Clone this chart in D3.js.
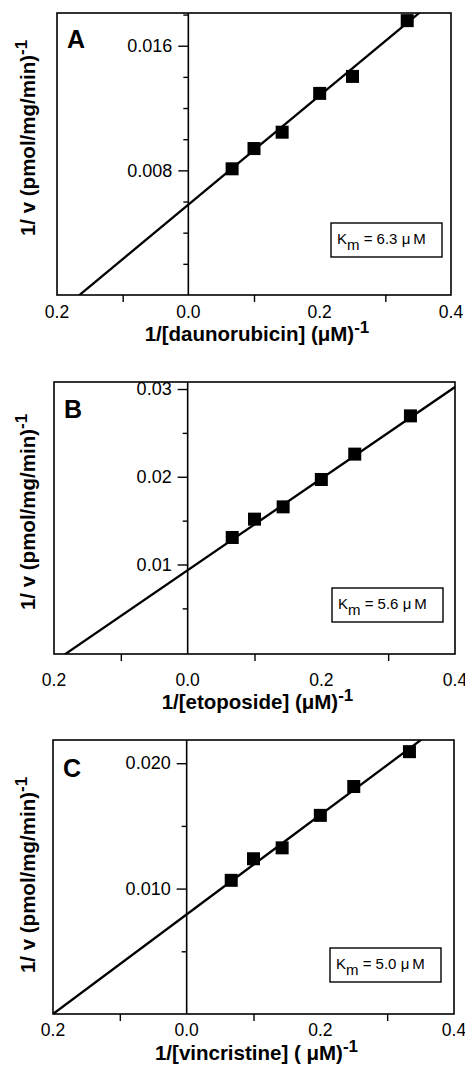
<!DOCTYPE html>
<html>
<head>
<meta charset="utf-8">
<script src="https://cdn.jsdelivr.net/npm/d3@7"></script>
<style>
  body { margin: 0; background: #fff; }
  svg { font-family: "Liberation Sans", Arial, Helvetica, sans-serif; }
</style>
</head>
<body>
<div id="chart"></div>
<script>
// reciprocal substrate concentrations, 1/[S] (uM^-1)
var invConc = [1 / 15, 0.1, 1 / 7, 0.2, 0.25, 1 / 3];

// 1/v values
var daunorubicinV = [0.0081, 0.0094, 0.01045, 0.01294, 0.01403, 0.01761];
var etoposideV = [0.01308, 0.01517, 0.01657, 0.01969, 0.02258, 0.02694];
var vincristineV = [0.01066, 0.01238, 0.01325, 0.01584, 0.01814, 0.02092];

// fitted lines: [intercept, slope]
var daunorubicinFit = [0.0058, 0.0350];
var etoposideFit = [0.00935, 0.0522];
var vincristineFit = [0.00794, 0.0397];

var panelLetters = ["A", "B", "C"];
var drugNames = ["daunorubicin", "etoposide", "vincristine"];
var kmValues = ["6.3", "5.6", "5.0"];

var xDomain = [-0.2, 0.4];
var xLabelTicks = [-0.2, 0.0, 0.2, 0.4];
var xLabelText = ["0.2", "0.0", "0.2", "0.4"];
var xMinorTicks = [-0.1, 0.1, 0.3];

var yDomains = [[0, 0.0181], [-0.0002, 0.0308], [0, 0.02185]];
var yMajorTicks = [[0.008, 0.016], [0.01, 0.02, 0.03], [0.010, 0.020]];
var yMinorTicks = [[0.002, 0.004, 0.006, 0.010, 0.012, 0.014, 0.018],
                   [0.005, 0.015, 0.025],
                   [0.005, 0.015]];
var yFormats = [".3f", ".2f", ".3f"];

var W = 465, H = 1070;
var svg = d3.select("#chart").append("svg")
  .attr("width", W).attr("height", H);

// panel boxes (left, right, top, bottom) and text offsets
var boxes = [
  { l: 57, r: 451, t: 13, b: 295, tickLab: 318, title: 341, yTitle: 138, letter: 48, km: [331, 223] },
  { l: 54, r: 455, t: 382, b: 654, tickLab: 686, title: 709, yTitle: 512, letter: 418, km: [332, 588] },
  { l: 53, r: 454, t: 740, b: 1014, tickLab: 1036, title: 1060, yTitle: 875, letter: 777, km: [330, 948] }
];

var seriesV = [daunorubicinV, etoposideV, vincristineV];
var fits = [daunorubicinFit, etoposideFit, vincristineFit];

boxes.forEach(function(bx, i) {
  var g = svg.append("g");
  var x = d3.scaleLinear().domain(xDomain).range([bx.l, bx.r]);
  var y = d3.scaleLinear().domain(yDomains[i]).range([bx.b, bx.t]);

  var clipId = "clip" + i;
  g.append("clipPath").attr("id", clipId)
    .append("rect").attr("x", bx.l).attr("y", bx.t)
    .attr("width", bx.r - bx.l).attr("height", bx.b - bx.t);

  // frame
  g.append("rect")
    .attr("x", bx.l).attr("y", bx.t)
    .attr("width", bx.r - bx.l).attr("height", bx.b - bx.t)
    .style("fill", "none").style("stroke", "#000").style("stroke-width", 1.6);

  // y axis at x = 0
  var yAxis = g.append("g")
    .attr("transform", "translate(" + x(0) + ",0)")
    .call(d3.axisLeft(y).tickValues(yMajorTicks[i]).tickSize(10).tickPadding(6)
      .tickFormat(d3.format(yFormats[i])));
  yAxis.select(".domain").remove();
  yAxis.selectAll("line").style("stroke-width", 1.4);
  yAxis.selectAll("text").style("font-size", "18px").style("fill", "#000")
    .style("font-family", "Liberation Sans, Arial, sans-serif");

  var yMinor = g.append("g")
    .attr("transform", "translate(" + x(0) + ",0)")
    .call(d3.axisLeft(y).tickValues(yMinorTicks[i]).tickSize(5).tickFormat(""));
  yMinor.select(".domain").remove();
  yMinor.selectAll("line").style("stroke-width", 1.4);

  g.append("line")
    .attr("x1", x(0)).attr("x2", x(0)).attr("y1", bx.t).attr("y2", bx.b)
    .style("stroke", "#000").style("stroke-width", 1.6);

  // x axis minor ticks
  var xMinor = g.append("g")
    .attr("transform", "translate(0," + bx.b + ")")
    .call(d3.axisBottom(x).tickValues(xMinorTicks).tickSize(7).tickFormat(""));
  xMinor.select(".domain").remove();
  xMinor.selectAll("line").style("stroke-width", 1.4);

  g.selectAll(".xlab")
    .data(xLabelTicks)
    .enter()
    .append("text")
      .attr("class", "xlab")
      .attr("x", function(d) { return x(d); })
      .attr("y", bx.tickLab)
      .style("text-anchor", "middle")
      .style("font-size", "17.5px")
      .text(function(d, k) { return xLabelText[k]; });

  // fitted line
  var fit = fits[i];
  g.append("line")
    .attr("clip-path", "url(#" + clipId + ")")
    .attr("x1", x(xDomain[0])).attr("y1", y(fit[0] + fit[1] * xDomain[0]))
    .attr("x2", x(xDomain[1])).attr("y2", y(fit[0] + fit[1] * xDomain[1]))
    .style("stroke", "#000").style("stroke-width", 2.3);

  // data squares
  var sz = 13;
  g.selectAll(".pt")
    .data(invConc)
    .enter()
    .append("rect")
      .attr("class", "pt")
      .attr("x", function(d) { return x(d) - sz / 2; })
      .attr("y", function(d, k) { return y(seriesV[i][k]) - sz / 2; })
      .attr("width", sz).attr("height", sz)
      .style("fill", "#000");

  // panel letter
  g.append("text")
    .attr("x", bx.l + 10).attr("y", bx.letter)
    .style("font-size", "25px").style("font-weight", 700)
    .text(panelLetters[i]);

  // Km box
  g.append("rect")
    .attr("x", bx.km[0]).attr("y", bx.km[1])
    .attr("width", 111).attr("height", 34)
    .style("fill", "#fff").style("stroke", "#000").style("stroke-width", 1.4);
  var kt = g.append("text")
    .attr("x", bx.km[0] + 6).attr("y", bx.km[1] + 21)
    .style("font-size", "15px");
  kt.append("tspan").text("K");
  kt.append("tspan").attr("dy", 6).text("m");
  kt.append("tspan").attr("dy", -6).text(" = " + kmValues[i] + " \u03bc\u2009M");

  // x title
  var xt = g.append("text")
    .attr("x", (bx.l + bx.r) / 2 + 3).attr("y", bx.title)
    .style("text-anchor", "middle")
    .style("font-size", "20.5px").style("font-weight", 700);
  xt.append("tspan").text("1/[" + drugNames[i] + "] (" + (i == 2 ? " " : "") + "\u03bcM)");
  xt.append("tspan").attr("dy", -8).style("font-size", "17px").text("-1");

  // y title
  var yt = g.append("text")
    .attr("transform", "translate(35," + bx.yTitle + ") rotate(-90)")
    .style("text-anchor", "middle")
    .style("font-size", "20.5px").style("font-weight", 700);
  yt.append("tspan").text("1/ v (pmol/mg/min)");
  yt.append("tspan").attr("dy", -8).style("font-size", "17px").text("-1");
});
</script>
</body>
</html>
